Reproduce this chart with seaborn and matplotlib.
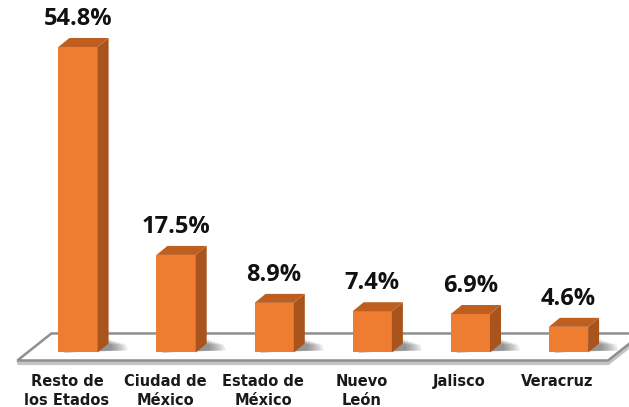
import numpy as np
import pandas as pd
import matplotlib
matplotlib.use("Agg")
import matplotlib.pyplot as plt
import seaborn as sns
from matplotlib.patches import Polygon
from matplotlib.transforms import IdentityTransform

# ==========================================
# 数据
# ==========================================
estados = ["Resto de\nlos Etados", "Ciudad de\nMéxico", "Estado de\nMéxico",
           "Nuevo\nLeón", "Jalisco", "Veracruz"]
porcentajes = [54.8, 17.5, 8.9, 7.4, 6.9, 4.6]
etiquetas = ["54.8%", "17.5%", "8.9%", "7.4%", "6.9%", "4.6%"]

COLOR_FRENTE = "#EE7D31"
COLOR_LADO = "#A9541D"
COLOR_TAPA = "#BE5F20"
DX, DY = 11, 9  # profundidad 3D en pixeles

sns.set_theme(style="white")
plt.rcParams['font.family'] = ['Open Sans', 'DejaVu Sans']

df = pd.DataFrame({"estado": estados, "pct": porcentajes})

fig = plt.figure(figsize=(6.29, 4.07), dpi=100)
ax = fig.add_axes([0, 0, 1, 1])
sns.barplot(data=df, x="estado", y="pct", color=COLOR_FRENTE, saturation=1,
            width=0.4, ax=ax, zorder=3)
ax.set_xlim(-0.795, 5.617)
ax.set_ylim(-9.78, 63.23)
ax.axis("off")

ident = IdentityTransform()
to_px = ax.transData.transform

bars = list(ax.patches)

# ==========================================
# Piso (plataforma)
# ==========================================
bl = to_px((bars[0].get_x(), 0))
br = to_px((bars[-1].get_x() + bars[-1].get_width(), 0))
piso = [(bl[0] - 41, bl[1] - 8), (br[0] + 20, bl[1] - 8),
        (br[0] + 54, bl[1] + 19), (bl[0] - 7, bl[1] + 19)]
ax.add_patch(Polygon([(x, y - 2.5) for x, y in piso], closed=True, facecolor="none",
                     edgecolor="#c4c4c4", lw=3, transform=ident, zorder=0))
ax.add_patch(Polygon(piso, closed=True, facecolor="white", edgecolor="#8f8f8f",
                     lw=1.8, transform=ident, zorder=1))

# ==========================================
# Caras 3D, sombras y etiquetas
# ==========================================
for p, lab in zip(bars, etiquetas):
    x0, w, h = p.get_x(), p.get_width(), p.get_height()
    (px0, py0), (px1, py1) = to_px((x0, 0)), to_px((x0 + w, h))
    p.set_edgecolor("none")
    p.set_zorder(3)
    # sombra difusa sobre el piso
    for k in range(6):
        ax.add_patch(Polygon([(px0 + 6, py0), (px1 + DX + 4 + 3 * k, py0 + 2),
                              (px1 + DX + 2 + 3 * k, py0 + DY + 4 - k),
                              (px0 + 10, py0 + DY)],
                             closed=True, facecolor="#303030", alpha=0.11,
                             edgecolor="none", transform=ident, zorder=2))
    ax.add_patch(Polygon([(px1, py0), (px1, py1), (px1 + DX, py1 + DY), (px1 + DX, py0 + DY)],
                         closed=True, facecolor=COLOR_LADO, edgecolor="none",
                         transform=ident, zorder=3))
    ax.add_patch(Polygon([(px0, py1), (px1, py1), (px1 + DX, py1 + DY), (px0 + DX, py1 + DY)],
                         closed=True, facecolor=COLOR_TAPA, edgecolor="none",
                         transform=ident, zorder=3))
    ax.annotate(lab, xy=(x0 + w / 2, h), xytext=(0, 16), textcoords="offset pixels",
                ha="center", va="bottom", fontsize=17, fontweight="bold", color="#111111")

for i, est in enumerate(estados):
    ax.annotate(est, xy=(i, 0), xytext=(-11, -22), textcoords="offset pixels",
                ha="center", va="top", fontsize=10.5, fontweight="bold",
                family=["DejaVu Sans"], color="#1a1a1a", linespacing=1.3)

fig.savefig("out.png", dpi=100)
